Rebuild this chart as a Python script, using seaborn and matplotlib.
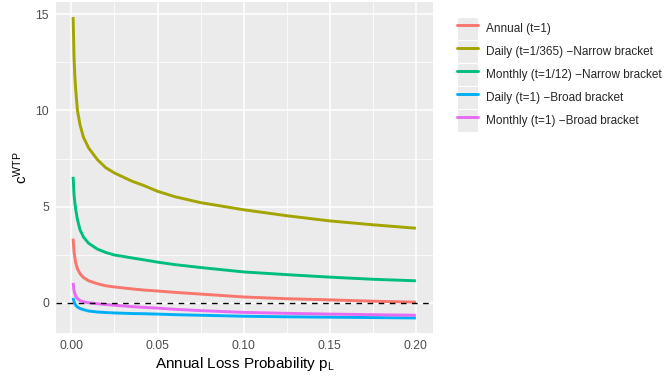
import numpy as np
import pandas as pd
import matplotlib
matplotlib.use("Agg")
import matplotlib.pyplot as plt
import seaborn as sns
from matplotlib.lines import Line2D
from matplotlib.patches import Rectangle
from matplotlib.legend_handler import HandlerLine2D
from matplotlib.ticker import MultipleLocator, FormatStrFormatter

# ---------------- data ----------------
p_loss = [0.001, 0.0015, 0.002, 0.0025, 0.0035, 0.005, 0.007, 0.01, 0.015,
          0.02, 0.025, 0.035, 0.042, 0.05, 0.06, 0.075, 0.1, 0.125, 0.15,
          0.175, 0.2]

annual = [3.34, 2.68, 2.35, 2.08, 1.77, 1.52, 1.32, 1.15, 1.00,
          0.89, 0.83, 0.73, 0.67, 0.62, 0.55, 0.46, 0.31, 0.22, 0.16,
          0.09, 0.04]
daily_narrow = [14.85, 12.8, 11.75, 11.06, 10.0, 9.25, 8.6, 8.05, 7.45,
                7.02, 6.75, 6.33, 6.10, 5.80, 5.52, 5.21, 4.84, 4.53, 4.26,
                4.06, 3.88]
monthly_narrow = [6.55, 5.65, 5.20, 4.85, 4.33, 3.80, 3.42, 3.10, 2.80,
                  2.62, 2.49, 2.34, 2.24, 2.12, 1.99, 1.84, 1.61, 1.47, 1.34,
                  1.23, 1.15]
daily_broad = [0.26, 0.06, -0.04, -0.12, -0.21, -0.29, -0.35, -0.42, -0.47,
               -0.50, -0.52, -0.55, -0.56, -0.58, -0.61, -0.64, -0.69, -0.72,
               -0.74, -0.76, -0.78]
monthly_broad = [1.04, 0.65, 0.48, 0.36, 0.23, 0.12, 0.06, 0.01, -0.04,
                 -0.08, -0.12, -0.19, -0.23, -0.27, -0.33, -0.40, -0.49, -0.54,
                 -0.58, -0.61, -0.64]

series_labels = ["Annual (t=1)",
                 "Daily (t=1/365) \u2212Narrow bracket",
                 "Monthly (t=1/12) \u2212Narrow bracket",
                 "Daily (t=1) \u2212Broad bracket",
                 "Monthly (t=1) \u2212Broad bracket"]
series_values = [annual, daily_narrow, monthly_narrow, daily_broad, monthly_broad]
series_colors = ["#F8766D", "#A3A500", "#00BF7D", "#00B0F6", "#E76BF3"]

x_ticks = [0.00, 0.05, 0.10, 0.15, 0.20]
y_ticks = [0, 5, 10, 15]

# ---------------- build table ----------------
frames = []
for lab, vals in zip(series_labels, series_values):
    frames.append(pd.DataFrame({"p": p_loss, "c": vals, "series": lab}))
df = pd.concat(frames, ignore_index=True)

# ---------------- style ----------------
sns.set_theme(style="darkgrid")
plt.rcParams["font.family"] = ["Liberation Sans", "DejaVu Sans"]
plt.rcParams["mathtext.fontset"] = "custom"
plt.rcParams["mathtext.rm"] = "Liberation Sans"
plt.rcParams["mathtext.it"] = "Liberation Sans"
plt.rcParams["mathtext.bf"] = "Liberation Sans:bold"

fig = plt.figure(figsize=(6.64, 3.76), dpi=100)
W, H = 664, 376
ax = fig.add_axes([56 / W, 1 - 333 / H, (433 - 56) / W, (333 - 2) / H])
ax.set_facecolor("#EBEBEB")

palette = dict(zip(series_labels, series_colors))
sns.lineplot(data=df, x="p", y="c", hue="series", hue_order=series_labels,
             palette=palette, linewidth=2.1, ax=ax, legend=False, sort=True,
             estimator=None)
for ln in ax.get_lines():
    ln.set_solid_joinstyle("round")
    ln.set_solid_capstyle("butt")

ax.axhline(0, color="black", linewidth=1.0, dashes=(4, 4), zorder=3)

# limits with ggplot-like 5% expansion
xmin, xmax = min(p_loss), max(p_loss)
allv = [v for s in series_values for v in s]
ymin, ymax = min(allv), max(allv)
dx, dy = (xmax - xmin) * 0.05, (ymax - ymin) * 0.05
ax.set_xlim(xmin - dx, xmax + dx)
ax.set_ylim(ymin - dy, ymax + dy)

ax.set_xticks(x_ticks)
ax.set_yticks(y_ticks)
ax.xaxis.set_major_formatter(FormatStrFormatter("%.2f"))
ax.yaxis.set_major_formatter(FormatStrFormatter("%d"))
ax.xaxis.set_minor_locator(MultipleLocator(0.025))
ax.yaxis.set_minor_locator(MultipleLocator(2.5))
ax.grid(which="major", color="white", linewidth=1.1)
ax.grid(which="minor", color="white", linewidth=0.55)
ax.set_axisbelow(True)
for s in ax.spines.values():
    s.set_visible(False)
ax.tick_params(which="major", length=3, width=0.8, color="#333333",
               labelsize=8.8, labelcolor="#4D4D4D", pad=2)
ax.tick_params(which="minor", length=0)

ax.set_xlabel(r"Annual Loss Probability $\mathrm{p_L}$", fontsize=11,
              color="black", labelpad=2)
ax.set_ylabel(r"$\mathrm{c^{WTP}}$", fontsize=11, color="black", labelpad=4)


# ---------------- legend with grey key boxes ----------------
class KeyHandler(HandlerLine2D):
    def create_artists(self, legend, orig_handle, xdescent, ydescent,
                       width, height, fontsize, trans):
        rect = Rectangle((-xdescent, -ydescent), width, height,
                         facecolor="#EBEBEB", edgecolor="white",
                         linewidth=0.8, transform=trans)
        arts = super().create_artists(legend, orig_handle, xdescent, ydescent,
                                      width, height, fontsize, trans)
        return [rect] + list(arts)


handles = [Line2D([], [], color=c, linewidth=2.1) for c in series_colors]
fs = 8.5
fig.legend(handles, series_labels, loc="upper left",
           bbox_to_anchor=(456.5 / W, 1 - 17.0 / H),
           frameon=False, fontsize=fs, borderpad=0, borderaxespad=0,
           handlelength=1.86, handleheight=2.62, labelspacing=0.0,
           handletextpad=0.65,
           handler_map={Line2D: KeyHandler(marker_pad=0.12)})

fig.savefig("out.png", dpi=100)
